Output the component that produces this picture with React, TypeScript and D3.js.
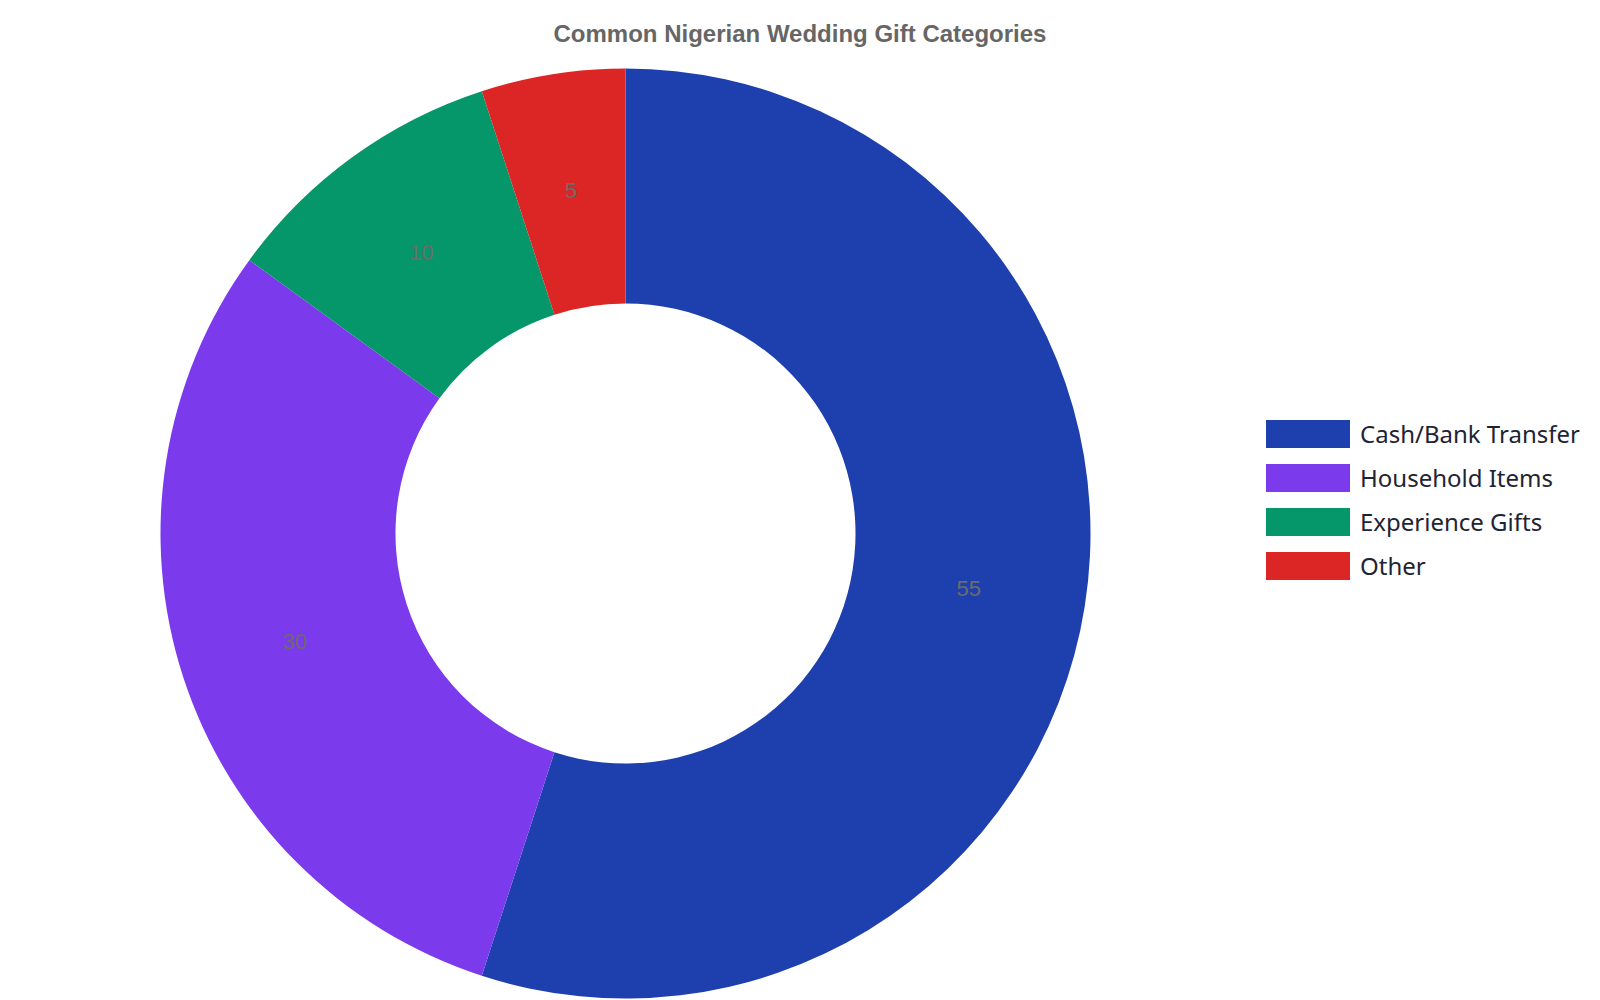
import { useEffect, useRef } from "react";
import * as d3 from "d3";

const categories = ["Cash/Bank Transfer", "Household Items", "Experience Gifts", "Other"];
const values = [55, 30, 10, 5];
const colors = ["#1e40af", "#7c3aed", "#059669", "#dc2626"];

export default function App() {
  const svgRef = useRef<SVGSVGElement | null>(null);

  useEffect(() => {
    const svg = d3.select(svgRef.current);
    svg.selectAll("*").remove();

    const width = 1600;
    const height = 1000;
    const cx = 625.5;
    const cy = 533.5;
    const outerR = 465;
    const innerR = 230;

    svg.attr("width", width).attr("height", height);

    // title
    svg.append("text")
      .attr("x", 800)
      .attr("y", 42)
      .attr("text-anchor", "middle")
      .attr("font-family", "Liberation Sans, Arial, sans-serif")
      .attr("font-weight", "bold")
      .attr("font-size", 24)
      .attr("fill", "#666666")
      .text("Common Nigerian Wedding Gift Categories");

    const data = categories.map((c, i) => ({ name: c, value: values[i] }));
    const color = d3.scaleOrdinal<string, string>().domain(categories).range(colors);

    const pie = d3.pie<any>().value(d => d.value).sort(null);
    const arc = d3.arc<any>().innerRadius(innerR).outerRadius(outerR);
    const mid = (innerR + outerR) / 2;
    const labelArc = d3.arc<any>().innerRadius(mid).outerRadius(mid);

    const g = svg.append("g").attr("transform", `translate(${cx},${cy})`);
    const arcs = pie(data);

    g.selectAll("path")
      .data(arcs)
      .join("path")
      .attr("d", arc)
      .attr("fill", d => color(d.data.name));

    g.selectAll("text")
      .data(arcs)
      .join("text")
      .attr("transform", d => `translate(${labelArc.centroid(d)})`)
      .attr("text-anchor", "middle")
      .attr("dy", "0.35em")
      .attr("font-family", "Liberation Sans, Arial, sans-serif")
      .attr("font-size", 22)
      .attr("fill", "#6b6b6b")
      .text(d => d.data.value);

    // legend
    const legend = svg.append("g").attr("transform", "translate(1266,420)");
    const rows = legend.selectAll("g")
      .data(categories)
      .join("g")
      .attr("transform", (d, i) => `translate(0,${i * 44})`);
    rows.append("rect")
      .attr("width", 84)
      .attr("height", 28)
      .attr("fill", d => color(d));
    rows.append("text")
      .attr("x", 94)
      .attr("y", 15)
      .attr("dy", "0.35em")
      .attr("font-family", "Noto Sans, sans-serif")
      .attr("font-size", 24)
      .attr("fill", "#1e2433")
      .text(d => d);
  }, []);

  return (
    <div style={{ position: "absolute", left: 0, top: 0 }}>
      <svg ref={svgRef} style={{ display: "block" }} />
    </div>
  );
}
